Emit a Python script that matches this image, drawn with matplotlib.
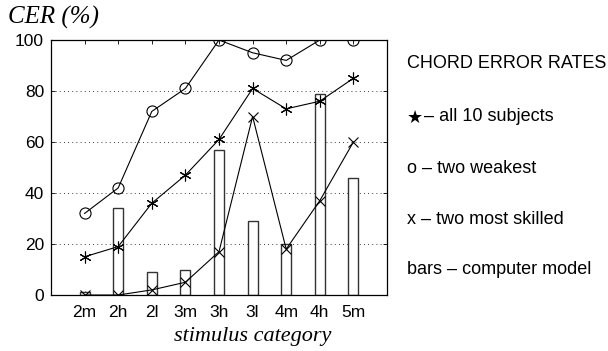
import numpy as np
import matplotlib
matplotlib.use('Agg')
import matplotlib.pyplot as plt

# stimulus categories and chord error rates (%)
categories = ['2m', '2h', '2l', '3m', '3h', '3l', '4m', '4h', '5m']
model_bars = [1, 34, 9, 10, 57, 29, 20, 79, 46]
all_subjects = [15, 19, 36, 47, 61, 81, 73, 76, 85]
two_weakest = [32, 42, 72, 81, 100, 95, 92, 100, 100]
two_skilled = [0, 0, 2, 5, 17, 70, 18, 37, 60]
y_ticks = [0, 20, 40, 60, 80, 100]

plt.rcParams['font.family'] = ['Liberation Sans', 'DejaVu Sans']

fig = plt.figure(figsize=(6.08, 3.51), dpi=100)
ax = fig.add_axes([0.0839, 0.1595, 0.5526, 0.7265])

xs = np.arange(1, len(categories) + 1)

ax.bar(xs, model_bars, width=0.3, facecolor='white', edgecolor='#333333',
       linewidth=1.0, zorder=2)

ax.plot(xs, two_weakest, color='black', linewidth=0.8, marker='o',
        markersize=8, markerfacecolor='none', markeredgewidth=0.8, zorder=3)
ax.plot(xs, all_subjects, color='black', linewidth=0.8, marker=(6, 2, 0),
        markersize=8.5, markeredgewidth=0.8, zorder=3)
ax.plot(xs, two_skilled, color='black', linewidth=0.8, marker='x',
        markersize=6.5, markeredgewidth=0.8, zorder=3)

ax.set_xlim(0, 10)
ax.set_ylim(0, 100)
ax.set_xticks(xs)
ax.set_xticklabels(categories)
ax.set_yticks(y_ticks)
ax.tick_params(axis='both', direction='in', length=3, labelsize=12.5,
               top=True, right=True, width=0.6)
ax.tick_params(axis='x', pad=7)
ax.tick_params(axis='y', pad=5)
for y in y_ticks[1:-1]:
    ax.axhline(y, color='black', linestyle=(0, (1, 4)), linewidth=0.6, zorder=1)
for s in ax.spines.values():
    s.set_linewidth(0.9)

fig.text(0.013, 0.949, 'CER (%)', family='Liberation Serif', style='italic',
         fontsize=18, ha='left', va='center')
fig.text(0.416, 0.04, 'stimulus category', family='Liberation Serif',
         style='italic', fontsize=16, ha='center', va='center')

lx = 0.669
fs = 13
fig.text(lx, 0.8205, 'CHORD ERROR RATES', fontsize=fs, va='center')
fig.text(lx, 0.664, '\u2605', fontsize=13, va='center', family='DejaVu Sans')
fig.text(lx + 0.028, 0.667, '\u2013 all 10 subjects', fontsize=fs, va='center')
fig.text(lx, 0.521, 'o \u2013 two weakest', fontsize=fs, va='center')
fig.text(lx, 0.376, 'x \u2013 two most skilled', fontsize=fs, va='center')
fig.text(lx, 0.231, 'bars \u2013 computer model', fontsize=fs, va='center')

plt.savefig('out.png', dpi=100)
